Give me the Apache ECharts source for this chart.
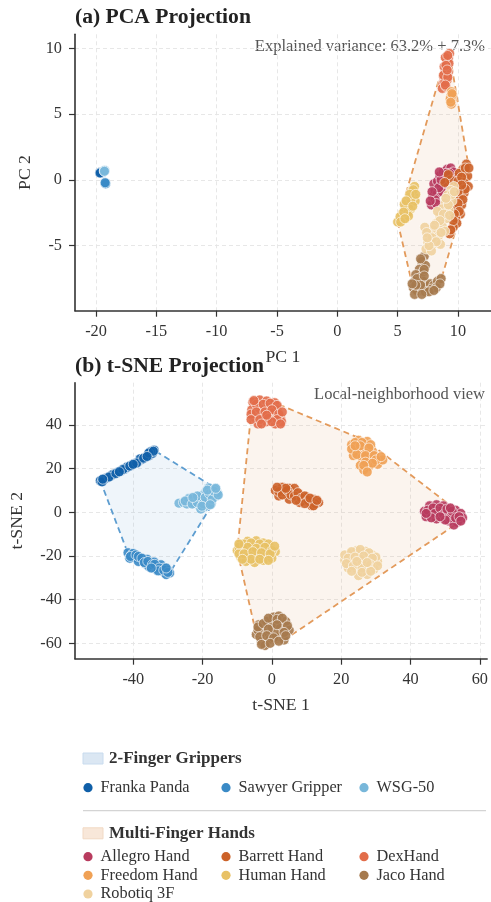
<!DOCTYPE html>
<html><head><meta charset="utf-8">
<script src="https://cdn.jsdelivr.net/npm/echarts@6/dist/echarts.min.js"></script>
<style>html,body{margin:0;padding:0;background:#fff}#c{width:491px;height:902px}</style>
</head><body><div id="c"></div>
<script>
// ---------------- DATA ----------------
const groupNames = ['2-Finger Grippers', 'Multi-Finger Hands'];
const twoFinger = ['Franka Panda', 'Sawyer Gripper', 'WSG-50'];
const multiFinger = ['Allegro Hand', 'Barrett Hand', 'DexHand', 'Freedom Hand', 'Human Hand', 'Jaco Hand', 'Robotiq 3F'];
const pcaXTicks = [-20, -15, -10, -5, 0, 5, 10];
const pcaYTicks = [-5, 0, 5, 10];
const tsneXTicks = [-40, -20, 0, 20, 40, 60];
const tsneYTicks = [-60, -40, -20, 0, 20, 40];
const pcaNote = 'Explained variance: 63.2% + 7.3%';
const tsneNote = 'Local-neighborhood view';

// PCA projection (PC1, PC2)
const pcaFranka = [[-19.68,0.55],[-19.62,0.58],[-19.66,0.52]];
const pcaSawyer = [[-19.22,-0.25],[-19.2,-0.3],[-19.24,-0.22]];
const pcaWSG = [[-19.32,0.68],[-19.28,0.72],[-19.3,0.65]];
const pcaAllegro = [[7.8,-1.9],[7.9,-1.3],[8.1,-0.8],[8.0,-0.3],[8.3,-0.1],[8.5,0.3],[8.8,0.6],[9.1,0.8],[9.4,0.9],[9.6,0.6],[9.2,0.3],[8.9,0.0],[8.6,-0.4],[8.3,-1.0],[8.1,-1.5],[9.8,0.2],[8.7,-0.9],[9.0,-0.3],[8.4,-0.6],[8.6,0.0],[9.3,0.5],[8.2,-1.8],[7.85,-0.9],[9.0,0.5],[8.45,0.6],[7.7,-1.6]];
const pcaBarrett = [[10.7,1.2],[10.4,0.8],[10.1,0.5],[10.8,0.3],[10.5,-0.2],[10.85,-0.5],[10.2,-0.7],[10.5,-1.0],[10.1,-1.4],[10.3,-1.9],[9.9,-2.2],[10.2,-2.6],[9.8,-2.9],[9.9,-3.3],[9.6,-3.6],[9.3,-4.1],[9.7,-0.4],[9.4,0.0],[9.2,0.4],[8.9,-0.2],[9.7,-1.2],[9.5,-2.0],[10.0,-0.1],[10.6,0.9],[10.3,0.2],[10.6,-0.7],[10.0,-0.9],[10.4,-1.5],[10.0,-1.8],[10.1,-2.4],[9.7,-2.6],[9.6,-3.1],[9.4,-3.8],[10.9,0.9],[10.3,-0.4]];
const pcaDex = [[9.3,9.6],[9.2,9.25],[9.1,8.9],[9.0,8.5],[8.9,8.1],[8.85,7.7],[8.75,7.3],[8.7,6.95],[9.0,7.1],[9.1,7.6],[9.2,8.2],[9.25,8.85],[8.95,9.3],[8.85,8.6],[8.9,7.4],[9.05,8.0],[9.15,9.45],[9.0,8.7],[8.8,7.95],[9.15,7.8],[8.95,7.2],[9.1,8.35]];
const pcaFreedom = [[9.45,6.7],[9.4,6.35],[9.5,6.05],[9.45,5.75],[9.35,6.15],[9.55,6.45],[9.5,6.55],[9.4,5.9]];
const pcaHuman = [[6.4,-0.5],[6.15,-0.85],[6.35,-1.25],[5.95,-1.35],[6.2,-1.75],[5.8,-1.9],[6.05,-2.25],[5.6,-2.3],[5.75,-2.7],[5.35,-2.6],[5.45,-3.0],[5.0,-3.2],[5.9,-2.05],[5.55,-1.85],[6.45,-1.6],[5.2,-2.8],[6.1,-1.5],[5.85,-2.5],[6.3,-0.75],[6.0,-1.1],[5.7,-1.6],[6.25,-2.0],[5.9,-2.75],[5.5,-2.45],[5.25,-3.2],[6.5,-1.1],[5.6,-2.95]];
const pcaJaco = [[7.2,-5.8],[7.0,-6.2],[7.3,-6.5],[6.8,-6.8],[7.1,-7.0],[6.5,-7.2],[6.9,-7.4],[6.4,-7.7],[6.7,-7.9],[7.1,-7.7],[6.3,-8.2],[6.6,-8.4],[7.0,-8.2],[7.4,-8.1],[7.7,-7.9],[8.0,-8.0],[8.3,-7.7],[8.6,-7.5],[7.8,-8.3],[6.4,-8.7],[7.3,-8.5],[8.2,-8.2],[6.9,-6.0],[7.2,-6.8],[6.6,-7.5],[6.9,-8.0],[7.2,-7.3],[6.5,-8.0],[7.6,-8.5],[8.5,-7.9],[7.0,-8.7],[6.2,-7.9],[8.0,-8.4]];
const pcaRobotiq = [[9.65,-0.5],[9.4,-0.8],[9.15,-1.15],[9.5,-1.6],[8.95,-1.75],[8.7,-2.2],[9.25,-2.3],[8.5,-2.75],[9.0,-2.95],[8.2,-3.3],[8.7,-3.55],[7.95,-3.8],[8.4,-4.25],[7.65,-4.2],[7.5,-4.75],[8.0,-4.85],[7.35,-5.25],[7.8,-5.4],[8.55,-4.9],[7.25,-3.6],[7.4,-4.0],[8.9,-3.9],[8.3,-2.4],[9.2,-1.9],[9.5,-1.1],[9.0,-1.4],[8.8,-2.6],[9.3,-2.7],[8.5,-3.1],[8.05,-3.45],[8.6,-4.0],[7.85,-4.4],[8.2,-4.7],[7.6,-5.0],[7.45,-4.4],[9.7,-0.9]];

// t-SNE projection (t-SNE 1, t-SNE 2)
const tsneFranka = [[-49.5,14.5],[-48.5,15.0],[-47.5,15.8],[-46.5,16.5],[-45.5,17.5],[-44.5,18.3],[-43.5,19.0],[-42.5,19.8],[-41.5,20.8],[-40.5,21.5],[-39.5,22.4],[-38.5,23.3],[-37.5,24.2],[-36.5,25.1],[-35.5,26.0],[-34.5,27.0],[-34,28.5],[-35,27.8],[-38,24.5],[-42,20.5],[-46,17.2],[-48,15.5],[-49,14],[-47,16.2],[-45,17.8],[-43,19.6],[-41,21.2],[-39,22.6],[-37,24.8],[-35.5,27.2],[-34.2,28],[-44,18.6],[-40,22],[-36,25.6],[-48.8,15.2]];
const tsneSawyer = [[-41.5,-18.5],[-40.5,-19.5],[-39.5,-20.8],[-41,-21],[-38,-21.2],[-37,-22],[-36,-21.5],[-35,-23.2],[-34,-22.8],[-33,-24.5],[-32,-24],[-31,-25.5],[-30,-26.5],[-29.5,-27.8],[-38.5,-22.5],[-36.5,-23.5],[-33.5,-26],[-31.5,-27],[-40,-18.8],[-35.5,-24.8],[-30.5,-28.5],[-40.8,-20.2],[-39.2,-19.5],[-38.5,-20.2],[-37.5,-21],[-36.8,-23],[-35.8,-22.5],[-34.5,-24],[-33.8,-23.8],[-32.5,-25.5],[-32.8,-26.8],[-31.2,-26.5],[-30,-27.5],[-30.5,-25.5],[-34.8,-25.5]];
const tsneWSG = [[-26.8,4.2],[-25.5,4.5],[-24.5,3.8],[-23.5,5.5],[-22.5,4.2],[-22,6.5],[-21,3.0],[-20.5,5.2],[-20,7.8],[-19.5,2.5],[-19,9.5],[-18.5,6.0],[-18.2,11.2],[-17.5,4.0],[-17,8.5],[-16.5,10.5],[-16,7.5],[-15.8,9.0],[-20.5,1.5],[-24,6.3],[-25,5.2],[-23,3.8],[-21.5,4.5],[-21.5,7.5],[-19.8,4.0],[-19.2,6.8],[-18,8.5],[-17.2,6.0],[-16.8,9.8],[-18.6,10.2],[-22.8,6.8],[-20.2,2.8],[-17.8,3.5],[-15.5,8.0],[-16.2,11]];
const tsneAllegro = [[44,0.5],[45.5,3],[47.5,3.5],[49.5,3],[46,-1],[48,0.5],[50,0],[47.5,-3],[52,-1.5],[53,1],[54.5,-0.5],[55,-2.5],[53.5,-4.5],[51,-4],[52.5,-5.8],[49,-2.5],[44.5,-2],[45,1],[46.5,2],[47,-0.5],[48.5,2],[49.5,-1],[50.5,1.5],[51.5,-2.5],[52,0.5],[53,-2.5],[54,-2],[50,-3.5],[46,-2.5],[44.5,-0.5],[48.5,-2],[54.5,-4],[51.5,2]];
const tsneBarrett = [[1,10],[3,11.5],[5,11],[2,7.5],[4,8.5],[6,9.5],[7,7],[5,6],[8,8],[9,5.5],[10,7],[11,4.5],[12,6],[13.5,4.5],[11.5,3],[8,4.5],[3.5,9.5],[6.5,11],[2,9.5],[3,8],[4.5,10],[5.5,8],[6.5,7.5],[7.5,9],[8.5,6.5],[9.5,7.5],[10.5,5.5],[12.5,4],[12,3],[9.5,4],[4,11],[1.5,11.5],[7,5.5],[11,6.5],[13,5.5]];
const tsneDex = [[-5.5,50.5],[-3.5,51.5],[-1.5,51.0],[0.8,50.2],[-5.8,47],[-3.5,47.5],[-1,48],[1.5,47],[-5,43.5],[-2.5,44],[0,44.5],[2.5,43.5],[-4,40.5],[-1.5,41.5],[1,40.5],[2.8,41.5],[-6,45],[0.5,46.5],[-4.5,49.5],[-2.5,49.5],[-0.5,50],[1.5,49],[-4.5,46],[-2,46],[0,47],[2,45],[-6,42.5],[-3.5,42.5],[-1,43],[1.5,42.5],[-3,40.5],[0,41.5],[2.5,40.5],[-5.2,51.2],[3,46],[-1.5,44.5]];
const tsneFreedom = [[23,31],[25,33],[27.5,32.5],[24,28.5],[26.5,29],[29,28],[23.5,26],[26,25],[28.5,24.5],[31,23.5],[25.5,21.5],[28,21],[30.5,22],[26.5,19.5],[32,24],[27,27],[24,32],[26,32],[28.5,31],[23,29],[25.5,30.5],[28,29.5],[24.5,26.5],[27,26],[29.5,26],[30,24],[27,23],[29,22.5],[26.5,21.5],[27.5,18.5],[24,30.5],[31.5,25.5]];
const tsneHuman = [[-10,-17.5],[-9,-14.5],[-7,-13.2],[-4.5,-13],[-2.5,-14],[-8,-17],[-5.5,-16],[-3,-17],[-0.5,-16],[1,-18],[-9,-20.5],[-6.5,-20],[-4,-19.5],[-1.5,-19.5],[-7.5,-22.5],[-5,-23],[-2.5,-22],[0,-21],[-9.5,-16],[-8,-14.5],[-6,-14],[-3.5,-14.5],[-1,-14.5],[-7,-16],[-4.5,-16.5],[-2,-16],[0,-17.5],[-9.5,-19],[-8,-19],[-5.5,-18],[-3,-18.5],[-0.5,-19],[-6,-21.5],[-3.5,-21.5],[-1,-22],[-8.5,-21.5],[-9.5,-14.5],[0.8,-15.5]];
const tsneJaco = [[-4.5,-56],[-3.8,-51.5],[-1.5,-50],[0.5,-48],[2,-47.5],[4,-50],[5,-54],[-2.5,-55],[0,-52.5],[2.5,-53],[-3,-59],[-0.5,-58],[2,-57],[3.5,-58.5],[-2,-61],[1,-55.5],[-4,-54],[-4,-52.5],[-2.5,-51],[-1,-48.5],[1.5,-49],[3,-48.5],[4.5,-52],[-1,-53.5],[1.5,-51.5],[3.5,-55],[-3.5,-57],[-1.5,-56.5],[0.5,-57.5],[-3,-60.5],[-0.5,-60],[2,-59],[4,-56.5]];
const tsneRobotiq = [[21,-22],[22.5,-19],[24.5,-17.5],[27,-17.8],[29,-19.5],[23,-23],[25.5,-21.5],[28,-22],[30.5,-22.5],[22,-25.5],[24.5,-26],[27,-25],[29.5,-26],[25,-29],[27.5,-28.5],[26,-23.5],[21,-19.5],[23,-18],[25.5,-17],[28,-18.5],[30,-20.5],[22,-21],[24,-20.5],[26.5,-20],[29,-21],[21.5,-23.5],[23.5,-24.5],[26,-25.5],[28.5,-24],[30.5,-24.5],[23,-27],[26,-27.5],[28.5,-27],[24.5,-22.5],[27.5,-23]];

// ---------------- STYLE ----------------
const FONT = "'Liberation Serif', 'DejaVu Serif', serif";
const colors = {
  'Franka Panda': '#0f5fa8', 'Sawyer Gripper': '#3a8ac6', 'WSG-50': '#78b7da',
  'Allegro Hand': '#b83b5e', 'Barrett Hand': '#cc6229', 'DexHand': '#e26d4a',
  'Freedom Hand': '#f0a155', 'Human Hand': '#e8c165', 'Jaco Hand': '#a67a4e', 'Robotiq 3F': '#f0d29f'
};
const pcaData = {
  'Franka Panda': pcaFranka, 'Sawyer Gripper': pcaSawyer, 'WSG-50': pcaWSG,
  'Allegro Hand': pcaAllegro, 'Barrett Hand': pcaBarrett, 'DexHand': pcaDex,
  'Freedom Hand': pcaFreedom, 'Human Hand': pcaHuman, 'Jaco Hand': pcaJaco, 'Robotiq 3F': pcaRobotiq
};
const tsneData = {
  'Franka Panda': tsneFranka, 'Sawyer Gripper': tsneSawyer, 'WSG-50': tsneWSG,
  'Allegro Hand': tsneAllegro, 'Barrett Hand': tsneBarrett, 'DexHand': tsneDex,
  'Freedom Hand': tsneFreedom, 'Human Hand': tsneHuman, 'Jaco Hand': tsneJaco, 'Robotiq 3F': tsneRobotiq
};
const hullStyle = [
  { stroke: '#5d9dd0', fill: 'rgba(120,170,215,0.12)' },
  { stroke: '#e39a5b', fill: 'rgba(230,180,140,0.15)' }
];

function convexHull(pts) {
  const p = pts.slice().sort((a, b) => a[0] - b[0] || a[1] - b[1]);
  const cross = (o, a, b) => (a[0]-o[0])*(b[1]-o[1]) - (a[1]-o[1])*(b[0]-o[0]);
  const lower = [], upper = [];
  for (const q of p) { while (lower.length >= 2 && cross(lower[lower.length-2], lower[lower.length-1], q) <= 0) lower.pop(); lower.push(q); }
  for (let i = p.length - 1; i >= 0; i--) { const q = p[i]; while (upper.length >= 2 && cross(upper[upper.length-2], upper[upper.length-1], q) <= 0) upper.pop(); upper.push(q); }
  upper.pop(); lower.pop();
  return lower.concat(upper);
}

function hullSeries(names, dataMap, idx, g) {
  let all = [];
  names.forEach(n => { all = all.concat(dataMap[n]); });
  const hull = convexHull(all);
  return {
    type: 'custom', xAxisIndex: idx, yAxisIndex: idx, silent: true, z: 1,
    data: [hull[0]],
    renderItem: function (params, api) {
      return {
        type: 'polygon',
        shape: { points: hull.map(p => api.coord(p)) },
        style: { fill: hullStyle[g].fill, stroke: hullStyle[g].stroke, lineWidth: 1.8, lineDash: [6, 4] }
      };
    }
  };
}

const series = [];
[0, 1].forEach(idx => {
  const dm = idx === 0 ? pcaData : tsneData;
  series.push(hullSeries(twoFinger, dm, idx, 0));
  series.push(hullSeries(multiFinger, dm, idx, 1));
  twoFinger.concat(multiFinger).forEach(n => {
    series.push({
      type: 'scatter', name: n, xAxisIndex: idx, yAxisIndex: idx, z: 3,
      data: dm[n], symbolSize: 10,
      itemStyle: { color: colors[n], opacity: 0.9, borderColor: '#ffffff', borderWidth: 0.7 },
      emphasis: { disabled: true }
    });
  });
});

function axisCommon(ticks, extra) {
  return Object.assign({
    type: 'value',
    axisLine: { show: true, onZero: false, lineStyle: { color: '#333', width: 1.6 } },
    axisTick: { show: true, length: 6, customValues: ticks, lineStyle: { color: '#333', width: 1.2 } },
    axisLabel: { customValues: ticks, fontFamily: FONT, fontSize: 16.3, color: '#333', margin: 13 },
    splitLine: { show: true, lineStyle: { color: '#e4e4e4', type: [4, 3], width: 0.9 } },
    nameLocation: 'middle',
    nameTextStyle: { fontFamily: FONT, fontSize: 17.7, color: '#333' }
  }, extra);
}

// legend graphics
const graphic = [];
graphic.push({ type: 'text', style: { text: pcaNote, x: 485, y: 47, align: 'right', verticalAlign: 'middle', font: '16.5px ' + FONT, fill: '#555' } });
graphic.push({ type: 'text', style: { text: tsneNote, x: 485, y: 394.5, align: 'right', verticalAlign: 'middle', font: '16.5px ' + FONT, fill: '#555' } });
const legendGroups = [
  { names: twoFinger, headerY: 758.5, rowY: [787.7], patch: ['#dbe7f3', '#c8dbee'] },
  { names: multiFinger, headerY: 833.3, rowY: [856.7, 875.3, 894], patch: ['#f8e7d9', '#f1d9c4'] }
];
const colX = [88, 226, 364];
legendGroups.forEach((g, gi) => {
  graphic.push({ type: 'rect', shape: { x: 83, y: g.headerY - 5.5, width: 20, height: 11 }, style: { fill: g.patch[0], stroke: g.patch[1], lineWidth: 1 } });
  graphic.push({ type: 'text', style: { text: groupNames[gi], x: 109, y: g.headerY, verticalAlign: 'middle', font: 'bold 17px ' + FONT, fill: '#333' } });
  g.names.forEach((n, i) => {
    const cx = colX[i % 3], cy = g.rowY[Math.floor(i / 3)];
    graphic.push({ type: 'circle', shape: { cx: cx, cy: cy, r: 4.6 }, style: { fill: colors[n] } });
    graphic.push({ type: 'text', style: { text: n, x: cx + 12.5, y: cy, verticalAlign: 'middle', font: '16.3px ' + FONT, fill: '#333' } });
  });
});
graphic.push({ type: 'line', shape: { x1: 83, y1: 810.7, x2: 486, y2: 810.7 }, style: { stroke: '#d4d4d4', lineWidth: 1.2 } });

const option = {
  backgroundColor: '#ffffff',
  animation: false,
  title: [
    { text: '(a) PCA Projection', left: 75, top: 6, padding: 0, textStyle: { fontFamily: FONT, fontSize: 21.6, fontWeight: 'bold', color: '#222' } },
    { text: '(b) t-SNE Projection', left: 75, top: 355, padding: 0, textStyle: { fontFamily: FONT, fontSize: 21.6, fontWeight: 'bold', color: '#222' } }
  ],
  grid: [
    { left: 75, top: 34.3, width: 415.7, height: 276.4, containLabel: false },
    { left: 75, top: 382.7, width: 415.7, height: 276, containLabel: false }
  ],
  xAxis: [
    axisCommon(pcaXTicks, { gridIndex: 0, min: -21.74, max: 12.71, name: 'PC 1', nameGap: 38 }),
    axisCommon(tsneXTicks, { gridIndex: 1, min: -56.8, max: 62.1, name: 't-SNE 1', nameGap: 38 })
  ],
  yAxis: [
    axisCommon(pcaYTicks, { gridIndex: 0, min: -9.94, max: 11.06, name: 'PC 2', nameGap: 41 }),
    axisCommon(tsneYTicks, { gridIndex: 1, min: -67.05, max: 59.4, name: 't-SNE 2', nameGap: 49 })
  ],
  series: series,
  graphic: graphic
};

const chart = echarts.init(document.getElementById('c'), null, { renderer: 'canvas' });
chart.setOption(option);
</script>
</body></html>
